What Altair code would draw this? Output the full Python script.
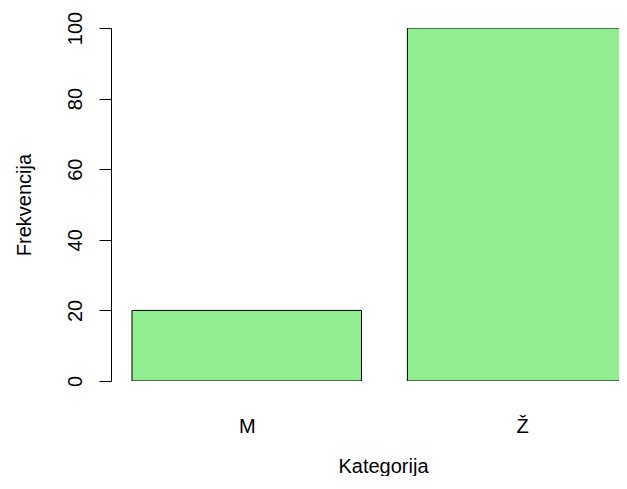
import altair as alt
import pandas as pd

# Data
categories = ["M", "Ž"]
frequencies = [20, 100]
y_ticks = [0, 20, 40, 60, 80, 100]

# R barplot layout convention (data units): width 1, space 0.2
bar_width = 1.0
space = 0.2
lefts = [space + i * (bar_width + space) for i in range(len(categories))]
rights = [l + bar_width for l in lefts]
centers = [round(l + bar_width / 2, 4) for l in lefts]

df = pd.DataFrame({
    "Kategorija": categories,
    "Frekvencija": frequencies,
    "x0": lefts,
    "x1": rights,
    "base": [0] * len(categories),
})

label_expr = " : ".join(
    f"abs(datum.value - {c}) < 0.01 ? '{cat}'" for c, cat in zip(centers, categories)
) + " : ''"

chart = alt.Chart(df).mark_bar(
    color="#90EE90", stroke="black", strokeWidth=1, clip=True
).encode(
    x=alt.X(
        "x0:Q",
        scale=alt.Scale(domain=[0.1085, 2.322], nice=False, zero=False, padding=0),
        axis=alt.Axis(
            title="Kategorija",
            values=centers,
            labelExpr=label_expr,
            domain=False,
            ticks=False,
            tickSize=0,
            grid=False,
            labelPadding=51,
            labelBaseline="alphabetic",
            titleX=272,
            titleY=91,
            titleAlign="center",
            titleBaseline="alphabetic",
        ),
    ),
    x2="x1:Q",
    y=alt.Y(
        "Frekvencija:Q",
        scale=alt.Scale(domain=[0, 100], nice=False, padding=0),
        axis=alt.Axis(
            title="Frekvencija",
            values=y_ticks,
            tickSize=12,
            labelPadding=18,
            labelAngle=270,
            labelAlign="center",
            labelBaseline="alphabetic",
            titleAngle=270,
            titleX=-80.5,
            titleY=176.5,
            titleAlign="center",
            titleBaseline="alphabetic",
            grid=False,
        ),
    ),
    y2="base:Q",
).properties(
    width=508,
    height=353,
    autosize=alt.AutoSizeParams(type="none"),
    padding={"left": 103, "top": 20, "right": 0, "bottom": 95},
).configure_view(
    stroke=None
).configure_axis(
    labelFont="Liberation Sans",
    titleFont="Liberation Sans",
    labelFontSize=20,
    titleFontSize=20,
    labelColor="black",
    titleColor="black",
    domainColor="black",
    tickColor="black",
    domainWidth=1,
    tickWidth=1,
    titleFontWeight="normal",
    labelFlush=False,
    labelOverlap=False,
)

chart.save("out.html", embed_options={"renderer": "svg", "actions": False})
